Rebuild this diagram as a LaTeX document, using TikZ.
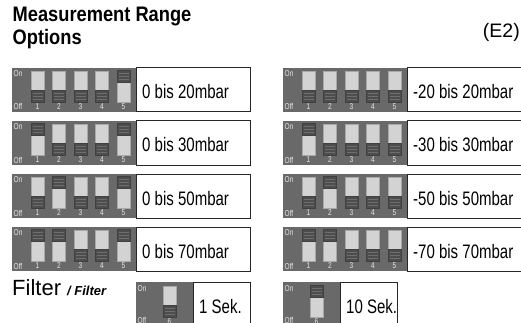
\documentclass[tikz,border=0pt]{standalone}
\usepackage{fontspec}
\setmainfont{Liberation Sans}
\newfontfamily\narrowfont[FakeStretch=0.77]{Liberation Sans}
\newfontfamily\titlefont[FakeStretch=0.87]{Liberation Sans}
\definecolor{panelgray}{HTML}{696969}
\definecolor{bodygray}{HTML}{D3D3D3}
\definecolor{bodyedge}{HTML}{A8A8A8}
\definecolor{knobgray}{HTML}{4D4D4D}
\definecolor{knobline}{HTML}{6E6E6E}
\definecolor{labgray}{HTML}{E6E6E6}
\definecolor{boxedge}{HTML}{262626}
\tikzset{
  panel/.style={fill=panelgray, draw=none, inner sep=0pt, anchor=north west},
  valbox/.style={fill=white, draw=boxedge, line width=1pt, inner sep=0pt, anchor=north west},
  valtext/.style={anchor=base west, inner sep=0pt, font=\narrowfont\fontsize{19.5}{21}\selectfont},
  diplab/.style={anchor=base west, inner sep=0pt, text=labgray, font=\narrowfont\fontsize{8.5}{9}\selectfont},
  dipnum/.style={anchor=base, inner sep=0pt, text=labgray, font=\narrowfont\fontsize{8.5}{9}\selectfont},
  swbody/.style={fill=bodygray, draw=bodyedge, line width=0.5pt},
  swknob/.style={fill=knobgray, draw=black!75, line width=0.4pt},
  swline/.style={draw=knobline, line width=0.7pt}
}
% #1 centre x, #2 panel top, #3 state, #4 number
\newcommand\dipswitch[4]{%
  \fill[swbody] (#1-6.5,#2+4) rectangle (#1+6.5,#2+35);
  \ifnum#3=1
    \def\kt{#2+3}%
  \else
    \def\kt{#2+23}%
  \fi
  \fill[swknob] (#1-6.5,\kt) rectangle (#1+6.5,\kt+12);
  \foreach \dl in {3,6,9} {\draw[swline] (#1-5,\kt+\dl) -- (#1+5,\kt+\dl);}
  \node[dipnum] at (#1,#2+42) {#4};
}
% #1 name, #2 left x, #3 top y, #4 states, #5 text
\newcommand\dipbank[5]{%
  \node[panel, minimum width=124pt, minimum height=44pt] (#1p) at (#2,#3) {};
  \node[valbox, minimum width=114pt, minimum height=44pt] (#1b) at (#2+124,#3) {};
  \node[valtext] (#1t) at (#2+130,#3+31.5) {#5};
  \node[diplab] (#1on) at (#2+1.5,#3+9) {On};
  \node[diplab] (#1off) at (#2+1.5,#3+42.5) {Off};
  \foreach \s [count=\i] in {#4} {
    \pgfmathsetmacro\cx{#2+25.5+(\i-1)*21.5}
    \dipswitch{\cx}{#3}{\s}{\i}
  }
}
% filter bank: #1 name, #2 left x, #3 top y, #4 state, #5 text
\newcommand\filterbank[5]{%
  \node[panel, minimum width=57pt, minimum height=44pt] (#1p) at (#2,#3) {};
  \node[valbox, minimum width=57pt, minimum height=44pt] (#1b) at (#2+57,#3) {};
  \node[valtext] (#1t) at (#2+63,#3+31.5) {#5};
  \node[diplab] (#1on) at (#2+1.5,#3+9) {On};
  \node[diplab] (#1off) at (#2+1.5,#3+41.5) {Off};
  \pgfmathsetmacro\cx{#2+33.5}
  \dipswitch{\cx}{#3}{#4}{6}
}
\begin{document}
\begin{tikzpicture}[x=1pt,y=-1pt]
\useasboundingbox (0,0) rectangle (521,323);
\clip (0,0) rectangle (521,323);
\node[anchor=base west, inner sep=0pt, font=\titlefont\bfseries\fontsize{21}{23}\selectfont] (title1) at (12.5,21.7) {Measurement Range};
\node[anchor=base west, inner sep=0pt, font=\titlefont\bfseries\fontsize{21}{23}\selectfont] (title2) at (12.5,44.5) {Options};
\node[anchor=base east, inner sep=0pt, font=\fontsize{19.5}{21}\selectfont] (e2) at (520,37.5) {(E2)};

\dipbank{la}{12}{67.5}{0,0,0,0,1}{0 bis 20mbar}
\dipbank{lb}{12}{120.5}{1,0,0,0,1}{0 bis 30mbar}
\dipbank{lc}{12}{173.5}{0,1,0,0,1}{0 bis 50mbar}
\dipbank{ld}{12}{226.5}{1,1,0,0,1}{0 bis 70mbar}

\dipbank{ra}{283}{67.5}{0,0,0,0,0}{-20 bis 20mbar}
\dipbank{rb}{283}{120.5}{1,0,0,0,0}{-30 bis 30mbar}
\dipbank{rc}{283}{173.5}{0,1,0,0,0}{-50 bis 50mbar}
\dipbank{rd}{283}{226.5}{1,1,0,0,0}{-70 bis 70mbar}

\node[anchor=base west, inner sep=0pt, font=\fontsize{22}{24}\selectfont] (filter) at (12,295.5) {Filter\ {\bfseries\itshape\fontsize{13}{15}\selectfont / Filter}};
\filterbank{fa}{136}{282}{0}{1 Sek.}
\filterbank{fb}{283}{282}{1}{10 Sek.}
\end{tikzpicture}
\end{document}
